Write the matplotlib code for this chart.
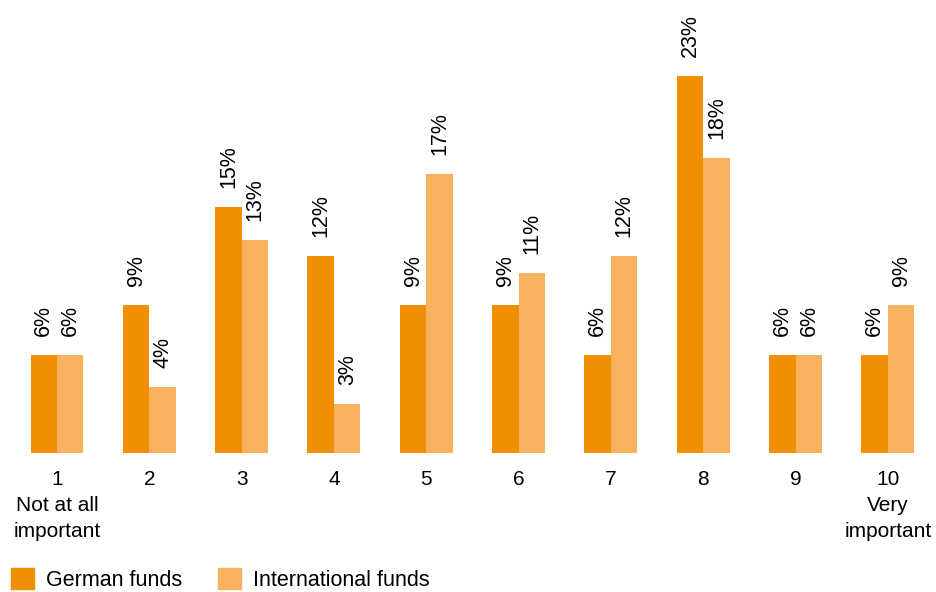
import matplotlib.pyplot as plt
import matplotlib.patches as mpatches
import numpy as np

plt.rcParams['font.family'] = ['Liberation Sans', 'DejaVu Sans']

categories = ["1\nNot at all\nimportant", "2", "3", "4", "5", "6", "7", "8", "9",
              "10\nVery\nimportant"]
german_funds = [6, 9, 15, 12, 9, 9, 6, 23, 6, 6]
international_funds = [6, 4, 13, 3, 17, 11, 12, 18, 6, 9]

GERMAN_COLOR = "#F09000"
INTL_COLOR = "#F8B25E"

fig = plt.figure(figsize=(9.37, 5.92), dpi=100)
# axes spans the full width; baseline sits at pixel row 453
ax = fig.add_axes([0, 1 - 453 / 592, 1, 453 / 592])

x = np.arange(len(categories))
width = 0.287
px_per_unit = 16.4

ax.bar(x - width / 2, german_funds, width, color=GERMAN_COLOR, label="German funds")
ax.bar(x + width / 2, international_funds, width, color=INTL_COLOR, label="International funds")

gap = 19 / px_per_unit
for xi, g, i in zip(x, german_funds, international_funds):
    ax.text(xi - width / 2, g + gap, f"{g}%", rotation=90, ha="center", va="bottom",
            fontsize=15.5)
    ax.text(xi + width / 2, i + gap, f"{i}%", rotation=90, ha="center", va="bottom",
            fontsize=15.5)

ax.set_xlim(-57 / 92.33, (937 - 57) / 92.33)
ax.set_ylim(0, 453 / px_per_unit)
ax.set_xticks(x)
ax.set_xticklabels(categories, fontsize=15, linespacing=1.47, va="top")
ax.tick_params(axis="x", length=0, pad=12)
ax.set_yticks([])
for s in ax.spines.values():
    s.set_visible(False)

handles = [mpatches.Patch(color=GERMAN_COLOR, label="German funds"),
           mpatches.Patch(color=INTL_COLOR, label="International funds")]
fig.legend(handles=handles, loc="lower left", bbox_to_anchor=(10 / 937, 0.0), ncol=2,
           frameon=False, fontsize=15.5, handlelength=1.07, handleheight=1.07,
           handletextpad=0.56, columnspacing=1.67, borderaxespad=0.0,
           borderpad=0.05)

fig.savefig("out.png", dpi=100)
